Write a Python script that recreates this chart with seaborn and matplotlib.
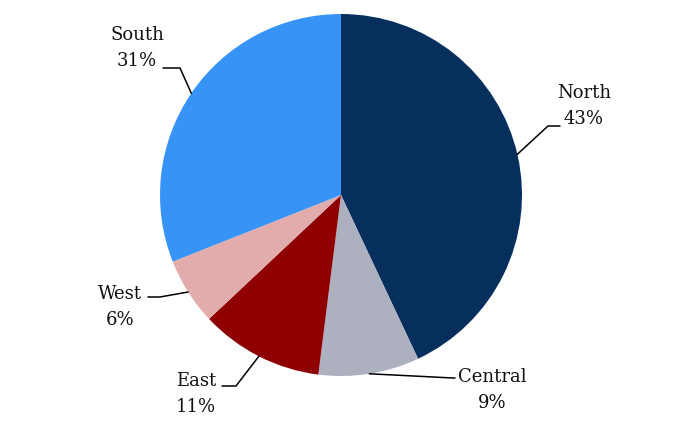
import numpy as np
import matplotlib
matplotlib.use("Agg")
import matplotlib.pyplot as plt
import seaborn as sns

regions = ["North", "Central", "East", "West", "South"]
shares = [43, 9, 11, 6, 31]
colors = ["#062f5e", "#adb0bf", "#8f0000", "#e3acac", "#3893f7"]

sns.set_theme(style="white")
plt.rcParams["font.family"] = ["DejaVu Serif"]

W, H = 686, 428
fig = plt.figure(figsize=(W / 100, H / 100), dpi=100)
ax = fig.add_axes([0, 0, 1, 1])

cx, cy, r = 341, H - 195, 181
wedges, _ = ax.pie(shares, colors=colors, startangle=90, counterclock=False,
                   center=(cx, cy), radius=r, frame=True,
                   wedgeprops=dict(linewidth=0))
ax.set_xlim(0, W)
ax.set_ylim(0, H)
ax.set_aspect("equal")
ax.axis("off")

# label layout: text centre (x, y from top), elbow point, line end, anchor angle override
layout = {
    "North":   dict(text=(584, 106), elbow=(548, 126), end=(560, 126), ang=13),
    "Central": dict(text=(492, 390), elbow=(453, 378), end=(455, 378), ang=None),
    "East":    dict(text=(196, 394), elbow=(236, 386), end=(222, 386), ang=None),
    "West":    dict(text=(120, 307), elbow=(160, 297), end=(148, 297), ang=None),
    "South":   dict(text=(137, 48), elbow=(180, 68), end=(163, 68), ang=None),
}

for w, name, val in zip(wedges, regions, shares):
    lay = layout[name]
    ang = lay["ang"] if lay["ang"] is not None else (w.theta1 + w.theta2) / 2
    a = np.deg2rad(ang)
    sx, sy = cx + r * np.cos(a), cy + r * np.sin(a)
    ex, ey = lay["elbow"]
    tx, ty = lay["end"]
    ax.plot([sx, ex, tx], [sy, H - ey, H - ty], color="black", lw=1.1,
            solid_joinstyle="miter")
    px, py = lay["text"]
    ax.text(px, H - py, f"{name}\n{val}%", ha="center", va="center",
            fontsize=13, color="#111111", linespacing=1.55)

fig.savefig("out.png", dpi=100)
